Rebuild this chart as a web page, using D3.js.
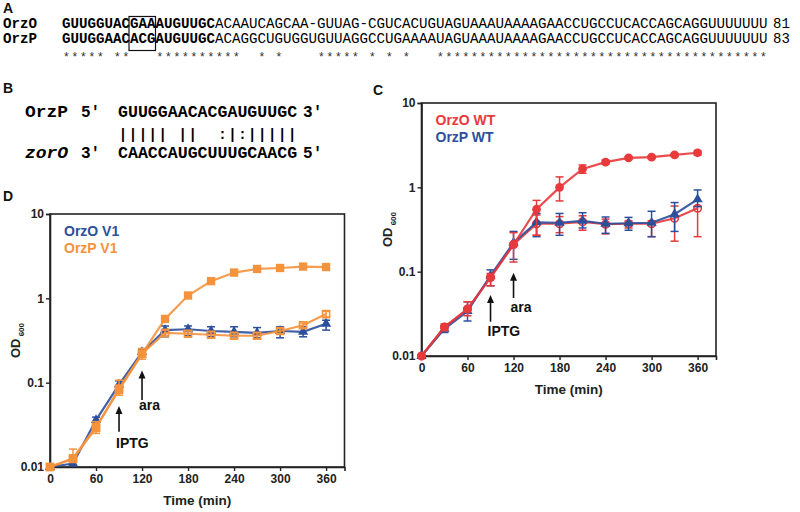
<!DOCTYPE html>
<html><head><meta charset="utf-8">
<script src="https://cdn.jsdelivr.net/npm/d3@7"></script>
<style>body{margin:0;background:#fff}svg{display:block}</style>
</head><body><svg id="fig" width="800" height="512"></svg>
<script>
// ---------- Panel A data ----------
const seqNames = ["OrzO", "OrzP"];
const seqs = [
  "GUUGGUACGAAAUGUUGCACAAUCAGCAA-GUUAG-CGUCACUGUAGUAAAUAAAAGAACCUGCCUCACCAGCAGGUUUUUUU",
  "GUUGGAACACGAUGUUGCACAGGCUGUGGUGUUAGGCCUGAAAAUAGUAAAUAAAAGAACCUGCCUCACCAGCAGGUUUUUUU"
];
const seqLengths = ["81", "83"];
const boldLen = 18;
const boxStart = 8, boxEnd = 11;

// ---------- Panel B data ----------
const pairNames = ["OrzP", "zorO"];
const pairTop = "GUUGGAACACGAUGUUGC";
const pairBottom = "CAACCAUGCUUUGCAACG";
const pairMarks = "||||| ||  :|:|||||";
const pairEnds = [["5\u2032", "3\u2032"], ["3\u2032", "5\u2032"]];

// ---------- Growth curves ----------
const time = [0, 30, 60, 90, 120, 150, 180, 210, 240, 270, 300, 330, 360];
const xTicks = [0, 60, 120, 180, 240, 300, 360];
const yTicks = [0.01, 0.1, 1, 10];
const yTickLabels = ["0.01", "0.1", "1", "10"];

// Panel C
const cLegend = ["OrzO WT", "OrzP WT"];
const cRedOpen   = [0.010, 0.022, 0.036, 0.086, 0.21, 0.37, 0.37, 0.39, 0.365, 0.37, 0.37, 0.43, 0.565];
const cRedOpenLo = [null, null, null, null, null, 0.27, 0.29, 0.31, 0.28, 0.33, 0.26, 0.23, 0.26];
const cRedOpenHi = [null, null, null, null, null, 0.47, 0.45, 0.46, 0.42, 0.40, 0.40, 0.60, 0.60];
const cBlue      = [0.010, 0.021, 0.034, 0.090, 0.22, 0.385, 0.38, 0.40, 0.37, 0.375, 0.38, 0.48, 0.72];
const cBlueLo    = [null, 0.019, 0.026, 0.068, 0.14, 0.26, 0.27, 0.33, 0.285, 0.31, 0.26, 0.30, 0.59];
const cBlueHi    = [null, 0.023, 0.044, 0.105, 0.30, 0.49, 0.49, 0.50, 0.445, 0.44, 0.52, 0.66, 0.93];
const cRed       = [0.010, 0.022, 0.036, 0.085, 0.21, 0.55, 1.00, 1.65, 1.99, 2.23, 2.28, 2.42, 2.57];
const cRedLo     = [null, 0.020, 0.030, 0.068, 0.13, 0.27, 0.69, 1.47, 1.88, 2.15, 2.20, 2.32, 2.42];
const cRedHi     = [null, 0.024, 0.044, 0.095, 0.29, 0.70, 1.33, 1.84, 2.10, 2.32, 2.36, 2.52, 2.72];

// Panel D
const dLegend = ["OrzO V1", "OrzP V1"];
const dOrangeOpen   = [0.010, 0.0125, 0.029, 0.085, 0.22, 0.39, 0.38, 0.37, 0.36, 0.36, 0.41, 0.48, 0.65];
const dOrangeOpenLo = [null, null, null, null, null, 0.36, 0.35, 0.34, 0.33, 0.33, 0.38, 0.45, 0.60];
const dOrangeOpenHi = [null, null, null, null, null, 0.42, 0.41, 0.40, 0.39, 0.39, 0.44, 0.51, 0.70];
const dBlue      = [0.010, 0.011, 0.036, 0.095, 0.23, 0.42, 0.43, 0.41, 0.40, 0.39, 0.41, 0.40, 0.50];
const dBlueLo    = [null, 0.0105, 0.033, 0.088, 0.21, 0.35, 0.36, 0.35, 0.35, 0.34, 0.34, 0.35, 0.42];
const dBlueHi    = [null, 0.0115, 0.039, 0.105, 0.25, 0.47, 0.47, 0.46, 0.46, 0.45, 0.46, 0.46, 0.55];
const dOrange    = [0.010, 0.0127, 0.030, 0.082, 0.22, 0.57, 1.08, 1.60, 2.02, 2.23, 2.29, 2.38, 2.35];
const dOrangeLo  = [null, 0.0119, 0.025, 0.071, 0.19, null, null, null, null, null, null, null, null];
const dOrangeHi  = [null, 0.0163, 0.0345, 0.107, 0.255, null, null, null, null, null, null, null, null];

// Arrow annotations: [label, time, tipOD, tailOD, labelOD]
const cArrows = [["IPTG", 90, 0.053, 0.0255, 0.0173], ["ara", 120, 0.097, 0.0488, 0.0336]];
const dArrows = [["IPTG", 90, 0.053, 0.0262, 0.0168], ["ara", 120, 0.139, 0.0624, 0.0475]];

// ---------- Drawing ----------
const svg = d3.select("#fig");
const SANS = "'Liberation Sans', Arial, sans-serif";
const MONO = "'Liberation Mono', 'Courier New', monospace";
const RED = "#e8393b", BLUE = "#2c4f9c", ORANGE = "#f5923c";

function label(x, y, t) {
  svg.append("text").attr("x", x).attr("y", y).text(t)
    .attr("font-family", SANS).attr("font-weight", "bold").attr("font-size", 14).attr("fill", "#111");
}
label(3, 13, "A"); label(3, 93, "B"); label(373, 95, "C"); label(3, 201, "D");

// Panel A
const cw = 8.5, seqX = 62;
const rowsY = [28, 43];
seqs.forEach((s, i) => {
  svg.append("text").attr("x", 3).attr("y", rowsY[i]).text(seqNames[i])
    .attr("font-family", MONO).attr("font-weight", "bold").attr("font-size", 14)
    .attr("textLength", 4 * cw).attr("lengthAdjust", "spacingAndGlyphs");
  svg.append("text").attr("x", seqX).attr("y", rowsY[i]).text(s.slice(0, boldLen))
    .attr("font-family", MONO).attr("font-weight", "bold").attr("font-size", 14)
    .attr("textLength", boldLen * cw).attr("lengthAdjust", "spacingAndGlyphs");
  svg.append("text").attr("x", seqX + boldLen * cw).attr("y", rowsY[i]).text(s.slice(boldLen))
    .attr("font-family", MONO).attr("font-size", 14)
    .attr("textLength", (s.length - boldLen) * cw).attr("lengthAdjust", "spacingAndGlyphs");
  svg.append("text").attr("x", 773).attr("y", rowsY[i]).text(seqLengths[i])
    .attr("font-family", MONO).attr("font-size", 14);
});
const stars = seqs[0].split("").map((c, k) => c === seqs[1][k] ? "*" : " ");
svg.append("g").selectAll("text").data(stars.map((c, k) => [c, k]).filter(d => d[0] === "*"))
  .join("text").attr("x", d => seqX + d[1] * cw + cw / 2).attr("y", 61).attr("text-anchor", "middle")
  .text("*").attr("font-family", MONO).attr("font-size", 12).attr("fill", "#333");
svg.append("rect").attr("x", seqX + boxStart * cw - 1).attr("y", 16.5)
  .attr("width", (boxEnd - boxStart) * cw + 1).attr("height", 34)
  .attr("fill", "none").attr("stroke", "#111").attr("stroke-width", 1.2);

// Panel B
const bx = 118, bcw = 9.95;
const bRows = [117, 158];
[pairTop, pairBottom].forEach((s, i) => {
  svg.append("text").attr("x", 25).attr("y", bRows[i]).text(pairNames[i])
    .attr("font-family", MONO).attr("font-weight", "bold").attr("font-size", 16)
    .attr("font-style", i === 1 ? "italic" : "normal")
    .attr("textLength", 43).attr("lengthAdjust", "spacingAndGlyphs");
  svg.append("text").attr("x", 81).attr("y", bRows[i]).text(pairEnds[i][0])
    .attr("font-family", MONO).attr("font-weight", "bold").attr("font-size", 16);
  svg.append("text").attr("x", bx).attr("y", bRows[i]).text(s)
    .attr("font-family", MONO).attr("font-weight", "bold").attr("font-size", 16)
    .attr("textLength", s.length * bcw).attr("lengthAdjust", "spacingAndGlyphs");
  svg.append("text").attr("x", bx + s.length * bcw + 6).attr("y", bRows[i]).text(pairEnds[i][1])
    .attr("font-family", MONO).attr("font-weight", "bold").attr("font-size", 16);
});
svg.append("g").selectAll("text").data(pairMarks.split("").map((c, k) => [c, k]).filter(d => d[0] !== " "))
  .join("text").attr("x", d => bx + d[1] * bcw + bcw / 2).attr("y", 139).attr("text-anchor", "middle")
  .text(d => d[0]).attr("font-family", MONO).attr("font-weight", "bold").attr("font-size", 14);

// Growth chart builder
function chart(o) {
  const g = svg.append("g");
  const x = d3.scaleLinear().domain([0, 384]).range([o.left, o.left + 294.5]);
  const y = d3.scaleLog().domain([0.01, 10]).range([o.bottom, o.bottom - 253]);
  g.append("rect").attr("x", o.left).attr("y", y(10)).attr("width", x(384) - o.left).attr("height", o.bottom - y(10))
    .attr("fill", "none").attr("stroke", "#222").attr("stroke-width", 1.6);
  const xa = g.append("g").attr("transform", `translate(0,${o.bottom})`)
    .call(d3.axisBottom(x).tickValues(xTicks).tickSize(4).tickPadding(3).tickFormat(d3.format("d")));
  const ya = g.append("g").attr("transform", `translate(${o.left},0)`)
    .call(d3.axisLeft(y).tickValues(yTicks).tickSize(4).tickPadding(2).tickFormat((d, i) => yTickLabels[i]));
  [xa, ya].forEach(a => {
    a.select(".domain").attr("stroke", "#222").attr("stroke-width", 1.6);
    a.selectAll(".tick line").attr("stroke", "#222").attr("stroke-width", 1.4);
    a.selectAll("text").attr("font-family", SANS).attr("font-weight", "bold").attr("font-size", 12).attr("fill", "#222");
  });
  g.append("text").attr("x", x(192)).attr("y", o.bottom + 38).attr("text-anchor", "middle")
    .attr("font-family", SANS).attr("font-weight", "bold").attr("font-size", 13.5).attr("fill", "#222").text("Time (min)");
  const yt = g.append("text").attr("transform", `translate(${o.left - 30},${(o.bottom + y(10)) / 2}) rotate(-90)`)
    .attr("text-anchor", "middle").attr("font-family", SANS).attr("font-weight", "bold").attr("font-size", 13).attr("fill", "#222");
  yt.append("tspan").text("OD");
  yt.append("tspan").text(" 600").attr("font-size", 8).attr("dy", 4);
  o.legend.forEach((t, i) => g.append("text").attr("x", o.left + 14).attr("y", y(10) + 22 + i * 16.5)
    .attr("font-family", SANS).attr("font-weight", "bold").attr("font-size", 14).attr("fill", o.legendColors[i]).text(t));
  const line = d3.line().x((d, i) => x(time[i])).y(d => y(d));
  o.series.forEach(s => {
    const eg = g.append("g").attr("stroke", s.color).attr("stroke-width", 1.5);
    time.forEach((t, i) => {
      if (s.lo[i] == null) return;
      const xx = x(t);
      eg.append("line").attr("x1", xx).attr("x2", xx).attr("y1", y(s.lo[i])).attr("y2", y(s.hi[i]));
      eg.append("line").attr("x1", xx - 4).attr("x2", xx + 4).attr("y1", y(s.lo[i])).attr("y2", y(s.lo[i]));
      eg.append("line").attr("x1", xx - 4).attr("x2", xx + 4).attr("y1", y(s.hi[i])).attr("y2", y(s.hi[i]));
    });
    g.append("path").datum(s.values).attr("d", line).attr("fill", "none")
      .attr("stroke", s.color).attr("stroke-width", 2.2).attr("stroke-opacity", 0.9);
    const sym = d3.symbol().type(s.shape).size(s.size);
    g.append("g").selectAll("path").data(s.values).join("path")
      .attr("transform", (d, i) => `translate(${x(time[i])},${y(d)})`)
      .attr("d", sym)
      .attr("fill", s.open ? "none" : s.color)
      .attr("stroke", s.color).attr("stroke-width", s.open ? 1.6 : 0);
  });
  o.arrows.forEach(a => {
    const xx = x(a[1]), tip = y(a[2]), tail = y(a[3]);
    g.append("line").attr("x1", xx).attr("x2", xx).attr("y1", tail).attr("y2", tip + 5)
      .attr("stroke", "#111").attr("stroke-width", 1.6);
    g.append("path").attr("d", `M${xx},${tip} L${xx - 3.5},${tip + 8} L${xx + 3.5},${tip + 8}Z`).attr("fill", "#111");
    g.append("text").attr("x", xx - 3).attr("y", y(a[4])).text(a[0])
      .attr("font-family", SANS).attr("font-weight", "bold").attr("font-size", 14).attr("fill", "#111");
  });
}

chart({
  left: 421.5, bottom: 356,
  legend: cLegend, legendColors: [RED, BLUE],
  series: [
    {values: cRedOpen, lo: cRedOpenLo, hi: cRedOpenHi, color: RED, shape: d3.symbolCircle, size: 45, open: true},
    {values: cBlue, lo: cBlueLo, hi: cBlueHi, color: BLUE, shape: d3.symbolTriangle, size: 45, open: false},
    {values: cRed, lo: cRedLo, hi: cRedHi, color: RED, shape: d3.symbolCircle, size: 60, open: false}
  ],
  arrows: cArrows
});
chart({
  left: 50, bottom: 467,
  legend: dLegend, legendColors: [BLUE, ORANGE],
  series: [
    {values: dBlue, lo: dBlueLo, hi: dBlueHi, color: BLUE, shape: d3.symbolTriangle, size: 45, open: false},
    {values: dOrangeOpen, lo: dOrangeOpenLo, hi: dOrangeOpenHi, color: ORANGE, shape: d3.symbolSquare, size: 50, open: true},
    {values: dOrange, lo: dOrangeLo, hi: dOrangeHi, color: ORANGE, shape: d3.symbolSquare, size: 70, open: false}
  ],
  arrows: dArrows
});
</script></body></html>
